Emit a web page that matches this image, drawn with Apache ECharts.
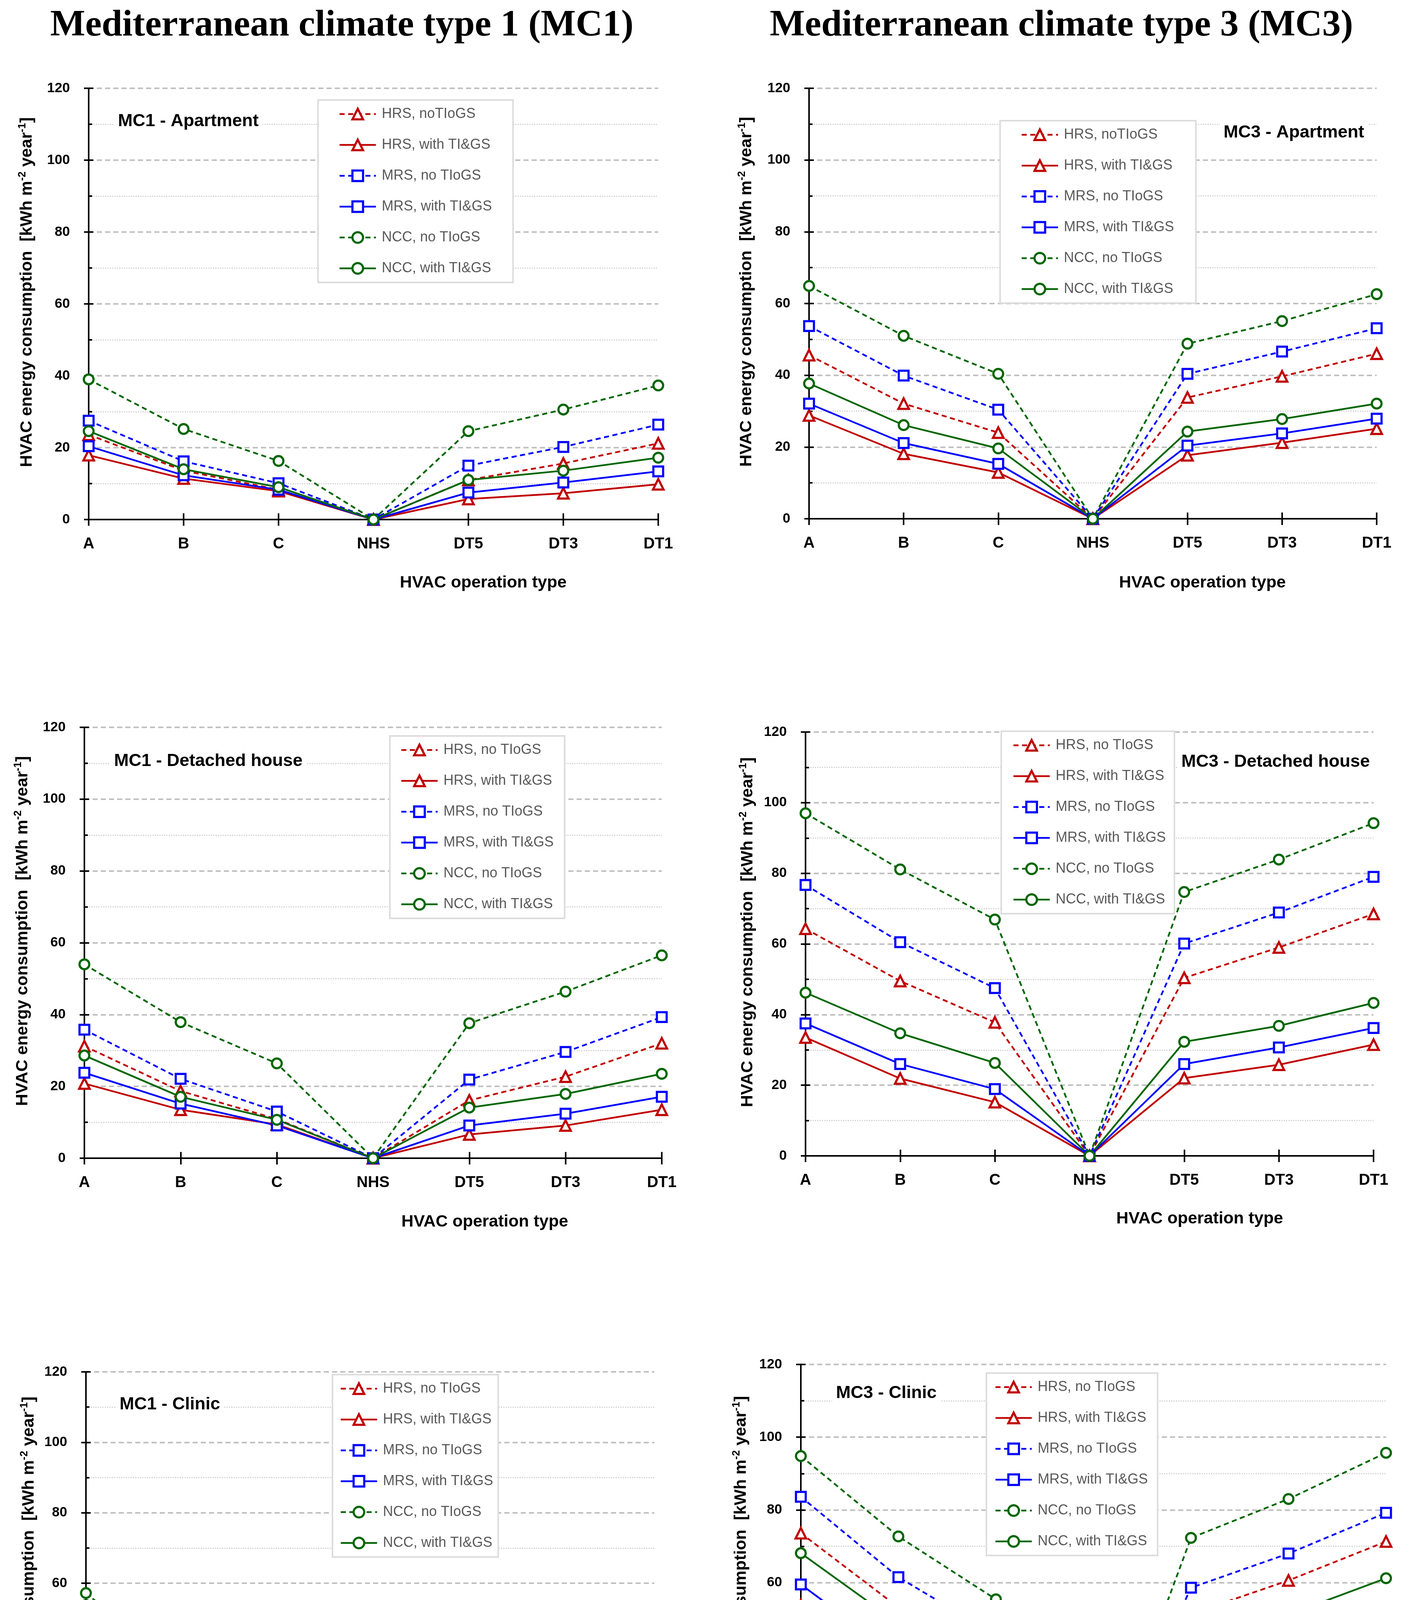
<!DOCTYPE html>
<html><head><meta charset="utf-8">
<script src="https://cdn.jsdelivr.net/npm/echarts@6/dist/echarts.min.js"></script>
<style>html,body{margin:0;padding:0;background:#fff}#c{width:3617px;height:4833px}</style>
</head><body><div id="c"></div>
<script>
const categories = ['A', 'B', 'C', 'NHS', 'DT5', 'DT3', 'DT1'];

// MC1 - Apartment
const mc1AptHrsNo    = [23.6, 13.6, 8.3, 0, 11.0, 15.6, 21.2];
const mc1AptHrsWith  = [17.9, 11.4, 7.9, 0, 5.7, 7.3, 9.8];
const mc1AptMrsNo    = [27.5, 16.2, 10.1, 0, 15.0, 20.2, 26.4];
const mc1AptMrsWith  = [20.4, 12.3, 8.3, 0, 7.5, 10.3, 13.4];
const mc1AptNccNo    = [39.0, 25.2, 16.3, 0, 24.6, 30.6, 37.3];
const mc1AptNccWith  = [24.6, 14.0, 9.0, 0, 11.0, 13.6, 17.2];
// MC3 - Apartment
const mc3AptHrsNo    = [45.6, 32.1, 24.0, 0, 33.8, 39.7, 46.0];
const mc3AptHrsWith  = [28.8, 18.1, 12.9, 0, 17.7, 21.2, 25.1];
const mc3AptMrsNo    = [53.7, 39.9, 30.4, 0, 40.4, 46.6, 53.1];
const mc3AptMrsWith  = [32.1, 21.1, 15.3, 0, 20.4, 23.8, 27.9];
const mc3AptNccNo    = [64.9, 51.0, 40.4, 0, 48.8, 55.1, 62.6];
const mc3AptNccWith  = [37.7, 26.1, 19.6, 0, 24.3, 27.8, 32.1];
// MC1 - Detached house
const mc1DetHrsNo    = [31.2, 18.7, 10.9, 0, 16.1, 22.7, 32.0];
const mc1DetHrsWith  = [20.8, 13.5, 9.4, 0, 6.6, 9.1, 13.5];
const mc1DetMrsNo    = [35.8, 22.1, 13.0, 0, 21.9, 29.6, 39.3];
const mc1DetMrsWith  = [23.8, 15.2, 9.1, 0, 9.1, 12.4, 17.1];
const mc1DetNccNo    = [54.0, 37.9, 26.4, 0, 37.6, 46.4, 56.5];
const mc1DetNccWith  = [28.6, 17.1, 10.7, 0, 14.1, 17.9, 23.5];
// MC3 - Detached house
const mc3DetHrsNo    = [64.3, 49.5, 37.8, 0, 50.4, 59.0, 68.5];
const mc3DetHrsWith  = [33.5, 21.9, 15.2, 0, 22.0, 25.8, 31.5];
const mc3DetMrsNo    = [76.7, 60.5, 47.5, 0, 60.1, 68.9, 79.0];
const mc3DetMrsWith  = [37.5, 26.0, 18.9, 0, 26.0, 30.7, 36.2];
const mc3DetNccNo    = [97.0, 81.1, 66.9, 0, 74.7, 83.9, 94.2];
const mc3DetNccWith  = [46.2, 34.7, 26.3, 0, 32.3, 36.8, 43.3];
// MC1 - Clinic
const mc1CliHrsNo    = [44.3, 24.3, 14.2, 0, 14.9, 20.4, 29.3];
const mc1CliHrsWith  = [39.6, 22.5, 13.4, 0, 10.9, 14.4, 20.9];
const mc1CliMrsNo    = [50.9, 28.4, 15.9, 0, 18.7, 25.7, 36.0];
const mc1CliMrsWith  = [46.6, 25.9, 14.7, 0, 12.7, 17.5, 25.4];
const mc1CliNccNo    = [57.2, 35.1, 20.7, 0, 31.3, 40.3, 51.7];
const mc1CliNccWith  = [53.8, 27.7, 15.7, 0, 17.1, 22.5, 31.4];
// MC3 - Clinic
const mc3CliHrsNo    = [73.6, 53.2, 37.6, 0, 51.4, 60.6, 71.3];
const mc3CliHrsWith  = [53.8, 35.1, 24.6, 0, 30.7, 37.1, 45.4];
const mc3CliMrsNo    = [83.6, 61.5, 45.5, 0, 58.6, 68.0, 79.2];
const mc3CliMrsWith  = [59.5, 39.6, 27.8, 0, 36.2, 43.0, 51.7];
const mc3CliNccNo    = [94.8, 72.7, 55.4, 0, 72.3, 83.0, 95.7];
const mc3CliNccWith  = [68.1, 48.8, 34.7, 0, 43.9, 51.2, 61.2];

const seriesNamesA = ['HRS, noTIoGS', 'HRS, with TI&GS', 'MRS, no TIoGS', 'MRS, with TI&GS', 'NCC, no TIoGS', 'NCC, with TI&GS'];
const seriesNamesB = ['HRS, no TIoGS', 'HRS, with TI&GS', 'MRS, no TIoGS', 'MRS, with TI&GS', 'NCC, no TIoGS', 'NCC, with TI&GS'];

const panelTitles = ['MC1 - Apartment', 'MC3 - Apartment', 'MC1 - Detached house', 'MC3 - Detached house', 'MC1 - Clinic', 'MC3 - Clinic'];
const mainTitles = ['Mediterranean climate type 1 (MC1)', 'Mediterranean climate type 3 (MC3)'];
const xAxisTitle = 'HVAC operation type';

const panelData = [
  [mc1AptHrsNo, mc1AptHrsWith, mc1AptMrsNo, mc1AptMrsWith, mc1AptNccNo, mc1AptNccWith],
  [mc3AptHrsNo, mc3AptHrsWith, mc3AptMrsNo, mc3AptMrsWith, mc3AptNccNo, mc3AptNccWith],
  [mc1DetHrsNo, mc1DetHrsWith, mc1DetMrsNo, mc1DetMrsWith, mc1DetNccNo, mc1DetNccWith],
  [mc3DetHrsNo, mc3DetHrsWith, mc3DetMrsNo, mc3DetMrsWith, mc3DetNccNo, mc3DetNccWith],
  [mc1CliHrsNo, mc1CliHrsWith, mc1CliMrsNo, mc1CliMrsWith, mc1CliNccNo, mc1CliNccWith],
  [mc3CliHrsNo, mc3CliHrsWith, mc3CliMrsNo, mc3CliMrsWith, mc3CliNccNo, mc3CliNccWith]
];
const panelNames = [seriesNamesA, seriesNamesA, seriesNamesB, seriesNamesB, seriesNamesB, seriesNamesB];

// ---- layout / style (not data) ----
const RED = '#C00000', BLUE = '#0000FF', GREEN = '#006600';
const DASH = [13, 9];
const styles = [
  {c: RED, sym: 'triangle', dash: true},
  {c: RED, sym: 'triangle', dash: false},
  {c: BLUE, sym: 'rect', dash: true},
  {c: BLUE, sym: 'rect', dash: false},
  {c: GREEN, sym: 'circle', dash: true},
  {c: GREEN, sym: 'circle', dash: false}
];
const grids = [
  {left: 227, top: 226, width: 1458, height: 1104},
  {left: 2071, top: 226, width: 1453, height: 1102},
  {left: 216, top: 1862, width: 1478, height: 1103},
  {left: 2062, top: 1874, width: 1454, height: 1085},
  {left: 220, top: 3512, width: 1455, height: 1082},
  {left: 2050, top: 3493, width: 1498, height: 1117}
];
const yNameGap = [133, 135, 133, 123, 121, 128];
const legendBox = [
  {left: 814, top: 256, pl: 53, pr: 54},
  {left: 2560, top: 309, pl: 53, pr: 56},
  {left: 998, top: 1884, pl: 27, pr: 28},
  {left: 2563, top: 1872, pl: 29, pr: 22},
  {left: 851, top: 3519, pl: 19, pr: 13},
  {left: 2525, top: 3515, pl: 21, pr: 25}
];
const subLabelPos = [
  [302, 311], [3132, 340], [292, 1949], [3024, 1951], [306, 3596], [2140, 3567]
];
const xNamePos = [
  [1237, 1492], [3078, 1492], [1241, 3128], [3071, 3120], [1228, 4754], [3088, 4776]
];
const SANS = '"Liberation Sans", Arial, sans-serif';
const AX = {color: '#000', width: 4};

const xMain = grids.map((g, i) => ({
  type: 'category', gridIndex: i, data: categories, boundaryGap: false, position: 'bottom',
  axisLine: {lineStyle: AX},
  axisTick: {show: true, length: 16, lineStyle: AX},
  axisLabel: {color: '#000', fontFamily: SANS, fontWeight: 'bold', fontSize: 40, margin: 43},
  splitLine: {show: false}
}));
const xInner = grids.map((g, i) => ({
  type: 'category', gridIndex: i, data: categories, boundaryGap: false, position: 'bottom',
  axisLine: {show: false},
  axisTick: {show: true, inside: true, length: 16, lineStyle: AX},
  axisLabel: {show: false}, splitLine: {show: false}
}));
const yMain = grids.map((g, i) => ({
  type: 'value', gridIndex: i, min: 0, max: 120, interval: 20, position: 'left',
  name: '{a|HVAC energy consumption  [kWh m}{s|-2}{a| year}{s|-1}{a|]}',
  nameLocation: 'middle', nameGap: yNameGap[i],
  nameTextStyle: {
    padding: [0, 0, 0, 60],
    rich: {
      a: {fontFamily: SANS, fontWeight: 'bold', fontSize: 43, color: '#000', lineHeight: 50},
      s: {fontFamily: SANS, fontWeight: 'bold', fontSize: 27, color: '#000', verticalAlign: 'top', lineHeight: 50}
    }
  },
  axisLine: {show: true, lineStyle: AX},
  axisTick: {show: true, length: 12, lineStyle: AX},
  axisLabel: {color: '#000', fontFamily: SANS, fontWeight: 'bold', fontSize: 35, margin: 48},
  splitLine: {show: true, lineStyle: {color: '#c0c0c0', width: 4, type: [13, 8]}},
  minorTick: {show: false, splitNumber: 2},
  minorSplitLine: {show: true, lineStyle: {color: '#d2d2d2', width: 3, type: [3, 3]}}
}));
const yInner = grids.map((g, i) => ({
  type: 'value', gridIndex: i, min: 0, max: 120, interval: 20, position: 'left', offset: 0,
  axisLine: {show: false},
  axisTick: {show: true, inside: true, length: 12, lineStyle: AX},
  minorTick: {show: true, splitNumber: 2, length: 9, lineStyle: AX},
  axisLabel: {show: false}, splitLine: {show: false}, minorSplitLine: {show: false}
}));

const option = {
  backgroundColor: '#ffffff',
  animation: false,
  grid: grids.map(g => Object.assign({containLabel: false}, g)),
  xAxis: xMain.concat(xInner),
  yAxis: yMain.concat(yInner),
  legend: grids.map((g, i) => ({
    data: panelNames[i],
    orient: 'vertical',
    left: legendBox[i].left, top: legendBox[i].top,
    padding: [18, legendBox[i].pr, 18, legendBox[i].pl],
    itemWidth: 93, itemHeight: 34, itemGap: 43,
    backgroundColor: '#ffffff', borderColor: '#dcdcdc', borderWidth: 4,
    selectedMode: false,
    lineStyle: {width: 4.5},
    itemStyle: {borderWidth: 5.5},
    textStyle: {fontFamily: SANS, fontSize: 36, color: '#595959', padding: [0, 0, 0, 10]},
    z: 10
  })),
  series: [],
  graphic: []
};

panelData.forEach((arrs, p) => {
  arrs.forEach((d, k) => {
    const st = styles[k];
    option.series.push({
      type: 'line', name: panelNames[p][k], xAxisIndex: p, yAxisIndex: p, data: d,
      symbol: st.sym, symbolSize: st.sym === 'triangle' ? 27 : 25, showAllSymbol: true,
      lineStyle: {color: st.c, width: 4.5, type: st.dash ? DASH : 'solid'},
      itemStyle: {color: '#ffffff', borderColor: st.c, borderWidth: 5.5},
      emphasis: {disabled: true}, z: 3
    });
  });
});

mainTitles.forEach((t, i) => {
  option.graphic.push({
    type: 'text', x: i === 0 ? 875 : 2717, y: 66, z: 20,
    style: {text: t, font: 'bold 95px "Liberation Serif", "Times New Roman", serif', fill: '#000',
      align: 'center', verticalAlign: 'middle', textAlign: 'center', textVerticalAlign: 'middle'}
  });
});
panelTitles.forEach((t, i) => {
  option.graphic.push({
    type: 'text', x: subLabelPos[i][0] - 10, y: subLabelPos[i][1], z: 20,
    style: {text: t, font: 'bold 45px ' + SANS, fill: '#000', backgroundColor: '#fff', padding: [4, 10, 4, 10],
      align: 'left', verticalAlign: 'middle', textAlign: 'left', textVerticalAlign: 'middle'}
  });
  option.graphic.push({
    type: 'text', x: xNamePos[i][0], y: xNamePos[i][1], z: 20,
    style: {text: xAxisTitle, font: 'bold 43px ' + SANS, fill: '#000',
      align: 'center', verticalAlign: 'middle', textAlign: 'center', textVerticalAlign: 'middle'}
  });
});

const chart = echarts.init(document.getElementById('c'), null, {renderer: 'canvas', width: 3617, height: 4833});
chart.setOption(option);
</script>
</body></html>
